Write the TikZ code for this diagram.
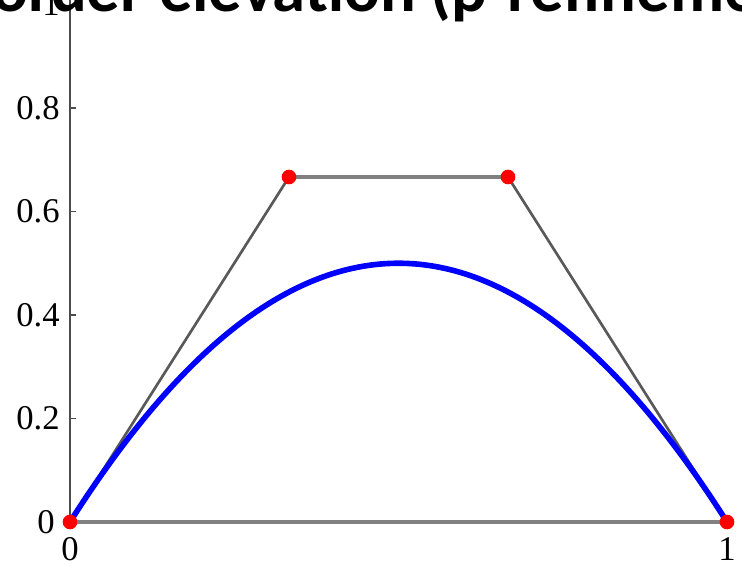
\documentclass[tikz,border=0pt]{standalone}
\usepackage{fontspec}
\setmainfont{Liberation Serif}
\newfontfamily\titlefont{Carlito}
\begin{document}
\begin{tikzpicture}[x=492.75pt, y=388.125pt,
  ticklabel/.style={font=\fontsize{26}{30}\selectfont, inner sep=0pt},
  ctrlpt/.style={circle, fill=red, draw=none, inner sep=0pt, minimum size=11pt}]

\colorlet{cAxis}{black!50}
\colorlet{cPoly}{black!65}
\colorlet{cCurve}{blue}

%% Frame: the page is 742x565 px, the unit square spans 657x517.5 px.
\useasboundingbox (-0.10654,-0.08309) rectangle (1.02283,1.00870);
\clip (-0.10654,-0.08309) rectangle (1.02283,1.00870);

%% ---------- axes ----------
\coordinate (o) at (0,0);
\coordinate (xend) at (1,0);
\coordinate (ytop) at (0,1.05);
\draw[cAxis, line width=2.8pt] (o) -- (xend);
\draw[black!70, line width=2.2pt] (o) -- (ytop);

\foreach \y/\lbl in {0.2/0.2, 0.4/0.4, 0.6/0.6, 0.8/0.8, 1/1} {
  \draw[black!70, line width=1.2pt] (0,\y) -- ++(4.5pt,0);
  \node[ticklabel, anchor=east] (ylab\lbl) at (-0.0152,\y) {\lbl};
}
\node[ticklabel, anchor=east] (ylab0) at (-0.0228,0) {0};
\node[ticklabel, anchor=north] (xlab0) at (0,-0.0290) {0};
\node[ticklabel, anchor=north] (xlab1) at (1,-0.0290) {1};

%% ---------- control polygon ----------
\coordinate (p0) at (0,0);
\coordinate (p1) at (1/3,2/3);
\coordinate (p2) at (2/3,2/3);
\coordinate (p3) at (1,0);
\draw[cPoly, line width=2pt] (p0) -- (p1);
\draw[black!50, line width=2.8pt] (p1) -- (p2);
\draw[cPoly, line width=2pt] (p2) -- (p3);

%% ---------- the curve (degree-elevated parabola) ----------
\draw[cCurve, line width=4.2pt] (p0) .. controls (p1) and (p2) .. (p3);

\foreach \p in {p0,p1,p2,p3}
  \node[ctrlpt] (dot\p) at (\p) {};

%% ---------- title, cut by the top edge ----------
\node[anchor=base west, inner sep=0pt,
      font=\titlefont\bfseries\fontsize{50}{55}\selectfont] (title)
  at (-0.1187,0.98550) {order elevation (p-refinement)};

\end{tikzpicture}
\end{document}
